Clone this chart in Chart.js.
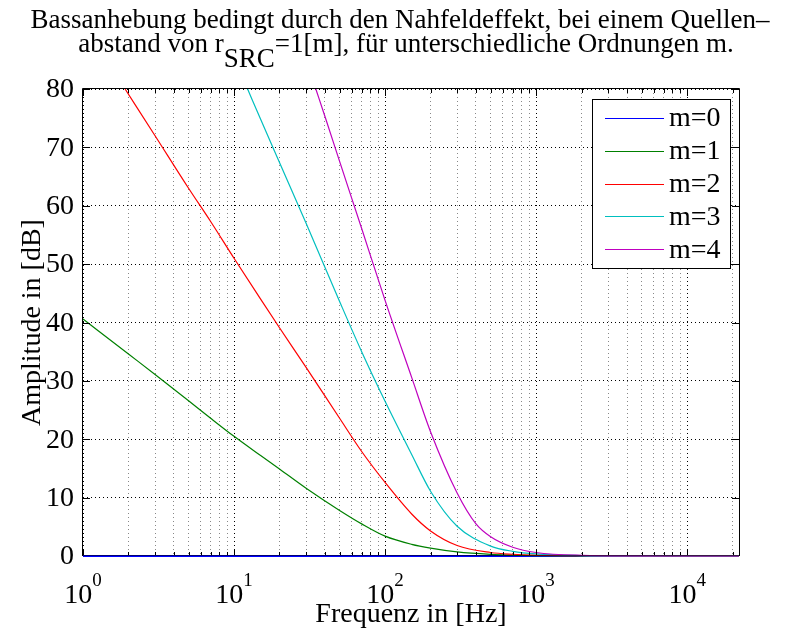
<!DOCTYPE html>
<html>
<head>
<meta charset="utf-8">
<script src="https://cdn.jsdelivr.net/npm/chart.js@4.4.0/dist/chart.umd.min.js"></script>
<style>
  html, body { margin: 0; padding: 0; background: #fff; }
</style>
</head>
<body>
<canvas id="chart" width="801" height="630"></canvas>
<script>
// values (frequency in Hz, level in dB)
const freqM0 = [1, 22050]
const dbM0 = [0, 0]

const freqM1 = [1, 2, 3, 5, 7, 10, 15, 20, 30, 50, 70, 100, 150, 200, 300, 500, 700, 1000, 2000, 5000, 10000, 22050]
const dbM1 = [40.6, 34.6, 31.1, 26.6, 23.6, 20.5, 17.2, 14.9, 11.6, 7.8, 5.5, 3.4, 2.0, 1.35, 0.7, 0.28, 0.15, 0.07, 0.02, 0, 0, 0]

const freqM2 = [1.9, 3, 5, 7, 10, 15, 20, 30, 50, 70, 100, 150, 200, 300, 500, 700, 1000, 2000, 5000, 10000, 22050]
const dbM2 = [80, 72.0, 63.0, 57.3, 51.0, 44.0, 39.1, 32.3, 23.6, 17.9, 12.6, 7.2, 4.3, 1.8, 0.6, 0.3, 0.15, 0.04, 0, 0, 0]

const freqM3 = [12.3, 15, 20, 30, 50, 70, 100, 150, 200, 300, 500, 700, 1000, 2000, 5000, 10000, 22050]
const dbM3 = [80, 74.8, 67.4, 57.0, 43.6, 35.0, 26.5, 17.4, 11.1, 5.1, 1.7, 0.8, 0.35, 0.08, 0.01, 0, 0]

const freqM4 = [34.8, 40, 50, 70, 100, 150, 200, 300, 400, 500, 700, 1000, 2000, 5000, 10000, 22050]
const dbM4 = [80, 75.3, 67.6, 56.1, 43.8, 30.6, 21.3, 10.8, 5.5, 3.3, 1.5, 0.6, 0.12, 0.02, 0, 0]

const seriesLabels = ['m=0', 'm=1', 'm=2', 'm=3', 'm=4']
const seriesColors = ['#0000ff', '#008000', '#ff0000', '#00bfbf', '#bf00bf']

const xDecades = [1, 10, 100, 1000, 10000]
const xMax = 22050
const yTicks = [0, 10, 20, 30, 40, 50, 60, 70, 80]

const FONT = "'Liberation Serif', serif"
const f = px => px + 'px ' + FONT

// grid positions on the log axis: 1..9 in every decade
const xGrid = []
xDecades.forEach(d => {
  for (let k = 1; k <= 9; k++) if (k * d <= xMax) xGrid.push(k * d)
})
const isDecade = v => xDecades.includes(v)

const pts = (fs, ds) => fs.map((fr, i) => ({ x: fr, y: ds[i] }))
const allSeries = [[freqM0, dbM0], [freqM1, dbM1], [freqM2, dbM2], [freqM3, dbM3], [freqM4, dbM4]]

const datasets = allSeries.map(([fs, ds], idx) => ({
  label: seriesLabels[idx],
  data: pts(fs, ds),
  borderColor: seriesColors[idx],
  backgroundColor: seriesColors[idx],
  borderWidth: idx === 0 ? 2 : 1.2, // the flat m=0 line sits on the frame and looks heavier
  pointRadius: 0,
  cubicInterpolationMode: 'monotone',
  clip: false,
  order: seriesLabels.length - idx, // m=4 on top, like the original
}))

const decor = {
  id: 'decor',
  afterDraw(chart) {
    const { ctx, chartArea: a, scales: { x, y } } = chart
    ctx.save()
    ctx.fillStyle = '#000'
    ctx.strokeStyle = '#000'
    ctx.lineWidth = 1

    // frame; the bottom edge half transparent so the 0 dB lines show through
    ctx.beginPath()
    ctx.moveTo(a.left - 0.5, a.bottom); ctx.lineTo(a.left - 0.5, a.top - 0.5)
    ctx.lineTo(a.right + 0.5, a.top - 0.5); ctx.lineTo(a.right + 0.5, a.bottom)
    ctx.stroke()
    ctx.strokeStyle = 'rgba(0,0,0,0.55)'
    ctx.beginPath()
    ctx.moveTo(a.left - 1, a.bottom - 0.5); ctx.lineTo(a.right + 1, a.bottom - 0.5)
    ctx.stroke()
    ctx.strokeStyle = '#000'

    // inward ticks
    ctx.beginPath()
    xGrid.forEach(v => {
      const px = Math.round(x.getPixelForValue(v)) + 0.5
      const len = isDecade(v) ? 7 : 4
      ctx.moveTo(px, a.bottom - 1); ctx.lineTo(px, a.bottom - len)
      ctx.moveTo(px, a.top); ctx.lineTo(px, a.top + len)
    })
    yTicks.forEach(v => {
      const py = Math.round(y.getPixelForValue(v)) + 0.5
      if (v === 0) return
      ctx.moveTo(a.left, py); ctx.lineTo(a.left + 7, py)
      ctx.moveTo(a.right, py); ctx.lineTo(a.right - 7, py)
    })
    ctx.stroke()

    // y tick labels
    ctx.font = f(28)
    ctx.textAlign = 'right'
    ctx.textBaseline = 'middle'
    yTicks.forEach(v => ctx.fillText(String(v), a.left - 9, y.getPixelForValue(v) + 1))

    // x tick labels 10^k
    ctx.textBaseline = 'alphabetic'
    ctx.textAlign = 'left'
    xDecades.forEach((d, k) => {
      const px = x.getPixelForValue(d)
      ctx.font = f(28)
      const wb = ctx.measureText('10').width
      ctx.font = f(19)
      const ws = ctx.measureText(String(k)).width
      const x0 = px - (wb + ws) / 2
      ctx.font = f(28)
      ctx.fillText('10', x0, 603)
      ctx.font = f(19)
      ctx.fillText(String(k), x0 + wb, 586)
    })

    // axis titles
    ctx.font = f(28)
    ctx.textAlign = 'center'
    ctx.fillText('Frequenz in [Hz]', (a.left + a.right) / 2, 622)
    ctx.save()
    ctx.translate(40, (a.top + a.bottom) / 2)
    ctx.rotate(-Math.PI / 2)
    ctx.fillText('Amplitude in [dB]', 0, 0)
    ctx.restore()

    // title, two lines, second one with a full-size subscript (as matlab does it)
    ctx.font = f(27)
    ctx.textAlign = 'center'
    ctx.fillText('Bassanhebung bedingt durch den Nahfeldeffekt, bei einem Quellen\u2013', 400, 28)
    const partA = 'abstand von r', sub = 'SRC', partC = '=1[m], f\u00fcr unterschiedliche Ordnungen m.'
    const wa = ctx.measureText(partA).width
    const wsub = ctx.measureText(sub).width
    const wc = ctx.measureText(partC).width
    let tx = 406 - (wa + wsub + wc) / 2
    ctx.textAlign = 'left'
    ctx.fillText(partA, tx, 52)
    tx += wa
    ctx.fillText(sub, tx, 67)
    tx += wsub
    ctx.fillText(partC, tx, 52)

    // legend box inside the axes
    const lx = 592, ly = 99, lw = 138, lh = 169
    ctx.fillStyle = '#fff'
    ctx.fillRect(lx, ly, lw, lh)
    ctx.strokeStyle = '#000'
    ctx.strokeRect(lx + 0.5, ly + 0.5, lw, lh)
    ctx.font = f(28)
    ctx.textBaseline = 'middle'
    chart.data.datasets.forEach((ds, i) => {
      const ry = ly + 19 + i * 32.8
      ctx.strokeStyle = ds.borderColor
      ctx.lineWidth = 1.2
      ctx.beginPath()
      ctx.moveTo(lx + 13, Math.round(ry) + 0.5)
      ctx.lineTo(lx + 72, Math.round(ry) + 0.5)
      ctx.stroke()
      ctx.fillStyle = '#000'
      ctx.fillText(ds.label, lx + 77, ry + 1)
    })
    ctx.restore()
  },
}

new Chart(document.getElementById('chart'), {
  type: 'line',
  data: { datasets },
  options: {
    responsive: false,
    animation: false,
    layout: { padding: { left: 83, top: 89, right: 62, bottom: 74 } },
    plugins: {
      legend: { display: false },
      title: { display: false },
      tooltip: { enabled: false },
    },
    scales: {
      x: {
        type: 'logarithmic',
        min: 1,
        max: xMax,
        afterFit: s => { s.height = 0 },
        afterBuildTicks: s => { s.ticks = xGrid.map(v => ({ value: v })) },
        ticks: { display: false },
        grid: {
          drawTicks: false,
          lineWidth: 1,
          color: c => (c.tick && isDecade(c.tick.value)) ? '#000' : '#888',
        },
        border: { display: false, dash: [1, 3] },
      },
      y: {
        min: 0,
        max: 80,
        afterFit: s => { s.width = 0 },
        afterBuildTicks: s => { s.ticks = yTicks.map(v => ({ value: v })) },
        ticks: { display: false },
        grid: { drawTicks: false, lineWidth: 1, color: '#000' },
        border: { display: false, dash: [1, 3] },
      },
    },
  },
  plugins: [decor],
})
</script>
</body>
</html>
